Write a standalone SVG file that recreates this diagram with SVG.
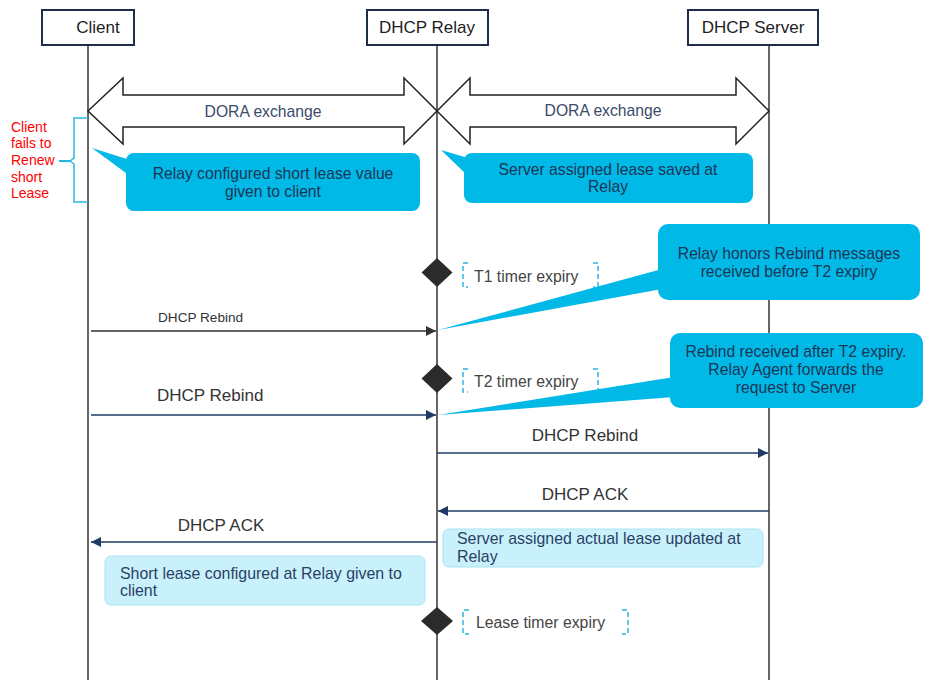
<svg xmlns="http://www.w3.org/2000/svg" width="932" height="694" viewBox="0 0 932 694">
<defs>
<style>
text{font-family:"Liberation Sans",Arial,sans-serif}
.hdr{fill:#fff;stroke:#1f2d4d;stroke-width:2}
.hdrt{font-size:17px;fill:#222}
.life{stroke:#333;stroke-width:1.5;fill:none}
.block{fill:#fff;stroke:#222;stroke-width:1.5;stroke-linejoin:miter}
.dora{font-size:15.7px;fill:#3a4a6b}
.call{fill:#00b9e6}
.callt{font-size:15.7px;fill:#1d3557}
.light{fill:#c9f1fb;stroke:#a9e3f2;stroke-width:1}
.lightt{font-size:15.9px;fill:#2a3f66}
.dia{fill:#2b2b2b}
.brk{fill:none;stroke:#29b5e0;stroke-width:1.5;stroke-dasharray:5,3}
.tmr{font-size:15.8px;fill:#444}
.msg{stroke:#333;stroke-width:1.5;fill:none}
.msgn{stroke:#1f3a63;stroke-width:1.5;fill:none}
.lbl{fill:#333}
</style>
<marker id="ah" viewBox="0 0 10 10" refX="10" refY="5" markerWidth="10" markerHeight="10" markerUnits="userSpaceOnUse" orient="auto">
<path d="M0,0 L10,5 L0,10 z" fill="#333"/>
</marker>
<marker id="ahn" viewBox="0 0 10 10" refX="10" refY="5" markerWidth="10" markerHeight="10" markerUnits="userSpaceOnUse" orient="auto">
<path d="M0,0 L10,5 L0,10 z" fill="#1f3a63"/>
</marker>
</defs>
<rect width="932" height="694" fill="#fff"/>

<g id="lifelines">
<line class="life" x1="88" y1="45" x2="88" y2="680"/>
<line class="life" x1="437" y1="45" x2="437" y2="680"/>
<line class="life" x1="769" y1="45" x2="769" y2="680"/>
</g>

<g id="client">
<rect class="hdr" x="42" y="10" width="92" height="35"/>
<text class="hdrt" x="98" y="33" text-anchor="middle">Client</text>
</g>
<g id="relay">
<rect class="hdr" x="367" y="10" width="121" height="35"/>
<text class="hdrt" x="427" y="33" text-anchor="middle">DHCP Relay</text>
</g>
<g id="server">
<rect class="hdr" x="688" y="10" width="130" height="35"/>
<text class="hdrt" x="753" y="33" text-anchor="middle">DHCP Server</text>
</g>

<g id="dora1">
<path class="block" d="M88,111 L123,78 L123,95 L404,95 L404,78 L437,111 L404,144 L404,127 L123,127 L123,144 Z"/>
<text class="dora" x="263" y="117" text-anchor="middle">DORA exchange</text>
</g>
<g id="dora2">
<path class="block" d="M437,111 L470,78 L470,95 L736,95 L736,78 L769,111 L736,144 L736,127 L470,127 L470,144 Z"/>
<text class="dora" x="603" y="116" text-anchor="middle">DORA exchange</text>
</g>

<g id="fail-note">
<path d="M88,118 L74,118 L74,158 L70,161 L74,164 L74,202 L88,202" fill="none" stroke="#29b5e0" stroke-width="1.5"/>
<line x1="59" y1="161" x2="70" y2="161" stroke="#29b5e0" stroke-width="2"/>
<text font-size="14" fill="#ff0000">
<tspan x="11" y="132">Client</tspan>
<tspan x="11" y="148">fails to</tspan>
<tspan x="11" y="165">Renew</tspan>
<tspan x="11" y="182">short</tspan>
<tspan x="11" y="198">Lease</tspan>
</text>
</g>

<g id="callout-short-lease">
<path class="call" d="M92,148 L130,160 L130,176 Z"/>
<rect class="call" x="126" y="153" width="294" height="58" rx="8"/>
<text class="callt" text-anchor="middle"><tspan x="273" y="179">Relay configured short lease value</tspan><tspan x="273" y="197">given to client</tspan></text>
</g>

<g id="callout-server-lease">
<path class="call" d="M441,150 L468,158 L468,176 Z"/>
<rect class="call" x="464" y="153" width="289" height="50" rx="8"/>
<text class="callt" text-anchor="middle"><tspan x="608" y="175">Server assigned lease saved at</tspan><tspan x="608" y="192">Relay</tspan></text>
</g>

<g id="t1">
<path class="dia" d="M437,258 L452.5,272.5 L437,287 L421.5,272.5 Z"/>
<path class="brk" d="M468,263 L463,263 L463,287 L468,287"/>
<path class="brk" d="M593,263 L598,263 L598,287 L593,287"/>
<text class="tmr" x="474" y="282">T1 timer expiry</text>
</g>

<g id="callout-honors">
<path class="call" d="M438,330 L662,269 L662,289 Z"/>
<rect class="call" x="658" y="224" width="262" height="76" rx="10"/>
<text class="callt" text-anchor="middle"><tspan x="789" y="259">Relay honors Rebind messages</tspan><tspan x="789" y="277">received before T2 expiry</tspan></text>
</g>

<g id="t2">
<path class="dia" d="M437,364 L452.5,378.5 L437,393 L421.5,378.5 Z"/>
<path class="brk" d="M468,369 L463,369 L463,392 L468,392"/>
<path class="brk" d="M593,369 L598,369 L598,392 L593,392"/>
<text class="tmr" x="474" y="387">T2 timer expiry</text>
</g>

<g id="callout-after-t2">
<path class="call" d="M438,415 L674,377 L674,397 Z"/>
<rect class="call" x="670" y="333" width="253" height="75" rx="10"/>
<text class="callt" text-anchor="middle"><tspan x="796" y="357">Rebind received after T2 expiry.</tspan><tspan x="796" y="375">Relay Agent forwards the</tspan><tspan x="796" y="393">request to Server</tspan></text>
</g>

<g id="callout-actual-lease">
<rect class="light" x="443" y="529" width="320" height="38" rx="6"/>
<text class="lightt"><tspan x="457" y="544">Server assigned actual lease updated at</tspan><tspan x="457" y="562">Relay</tspan></text>
</g>

<g id="callout-short-given">
<rect class="light" x="105" y="556" width="320" height="49" rx="6"/>
<text class="lightt"><tspan x="120" y="579">Short lease configured at Relay given to</tspan><tspan x="120" y="596">client</tspan></text>
</g>

<g id="lease">
<path class="dia" d="M437,607 L453,621 L437,635 L421,621 Z"/>
<path class="brk" d="M469,610 L463,610 L463,634 L469,634"/>
<path class="brk" d="M622,610 L628,610 L628,634 L622,634"/>
<text class="tmr" x="476" y="628">Lease timer expiry</text>
</g>

<g id="connectors">
<line class="msg" x1="91" y1="331" x2="436" y2="331" marker-end="url(#ah)"/>
<text class="lbl" x="158" y="322" font-size="13.6">DHCP Rebind</text>
<line class="msgn" x1="91" y1="415" x2="436" y2="415" marker-end="url(#ahn)"/>
<text class="lbl" x="157" y="401" font-size="17">DHCP Rebind</text>
<line class="msgn" x1="437" y1="453" x2="768" y2="453" marker-end="url(#ahn)"/>
<text class="lbl" x="585" y="441" font-size="17" text-anchor="middle">DHCP Rebind</text>
<line class="msgn" x1="769" y1="511" x2="438" y2="511" marker-end="url(#ahn)"/>
<text class="lbl" x="585" y="500" font-size="17" text-anchor="middle">DHCP ACK</text>
<line class="msgn" x1="437" y1="542" x2="91" y2="542" marker-end="url(#ahn)"/>
<text class="lbl" x="221" y="531" font-size="17" text-anchor="middle">DHCP ACK</text>
</g>
</svg>
